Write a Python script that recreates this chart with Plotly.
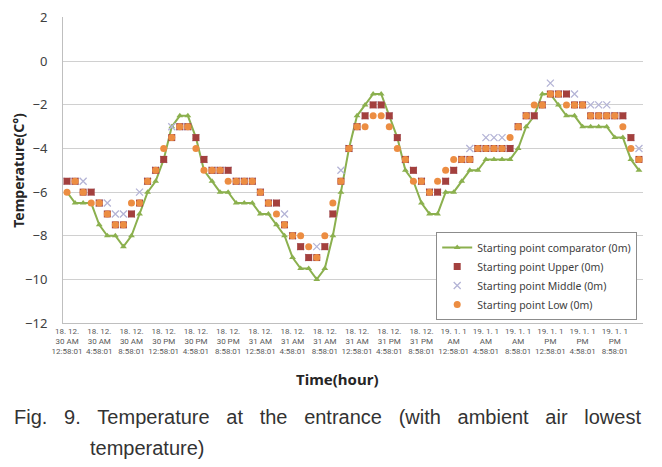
import plotly.graph_objects as go

tick_labels = [
    "18. 12.<br>30 AM<br>12:58:01", "18. 12.<br>30 AM<br>4:58:01", "18. 12.<br>30 AM<br>8:58:01",
    "18. 12.<br>30 PM<br>12:58:01", "18. 12.<br>30 PM<br>4:58:01", "18. 12.<br>30 PM<br>8:58:01",
    "18. 12.<br>31 AM<br>12:58:01", "18. 12.<br>31 AM<br>4:58:01", "18. 12.<br>31 AM<br>8:58:01",
    "18. 12.<br>31 AM<br>12:58:01", "18. 12.<br>31 PM<br>4:58:01", "18. 12.<br>31 PM<br>8:58:01",
    "19. 1. 1<br>AM<br>12:58:01", "19. 1. 1<br>AM<br>4:58:01", "19. 1. 1<br>AM<br>8:58:01",
    "19. 1. 1<br>PM<br>12:58:01", "19. 1. 1<br>PM<br>4:58:01", "19. 1. 1<br>PM<br>8:58:01",
]

comparator = [-6, -6.5, -6.5, -6.5, -7.5, -8, -8, -8.5, -8, -7, -6, -5.5,
              -4.5, -3, -2.5, -2.5, -3.5, -5, -5.5, -6, -6, -6.5, -6.5, -6.5,
              -7, -7, -7.5, -8, -9, -9.5, -9.5, -10, -9.5, -8, -6, -4,
              -2.5, -2, -1.5, -1.5, -2.5, -3.5, -5, -5.5, -6.5, -7, -7, -6,
              -6, -5.5, -5, -5, -4.5, -4.5, -4.5, -4.5, -4, -3, -2.5, -1.5,
              -1.5, -2, -2.5, -2.5, -3, -3, -3, -3, -3.5, -3.5, -4.5, -5]

upper = [-5.5, -5.5, -6, -6, -6.5, -7, -7.5, -7.5, -7, -6.5, -5.5, -5,
         -4.5, -3.5, -3, -3, -3.5, -4.5, -5, -5, -5, -5.5, -5.5, -5.5,
         -6, -6.5, -6.5, -7.5, -8, -8.5, -9, -9, -8.5, -7, -5.5, -4,
         -3, -2.5, -2, -2, -2.5, -3.5, -4.5, -5, -5.5, -6, -6, -5.5,
         -5, -4.5, -4.5, -4, -4, -4, -4, -4, -3, -2.5, -2.5, -2,
         -1.5, -1.5, -1.5, -2, -2, -2.5, -2.5, -2.5, -2.5, -2.5, -3.5, -4.5]

middle = [-5.5, -5.5, -5.5, -6, -6.5, -6.5, -7, -7, -7, -6, -5.5, -5,
          -4.5, -3, -3, -3, -3.5, -4.5, -5, -5, -5, -5.5, -5.5, -5.5,
          -6, -6.5, -6.5, -7, -8, -8.5, -9, -8.5, -8.5, -7, -5, -4,
          -3, -2.5, -2, -2, -2.5, -3.5, -4.5, -5, -5.5, -6, -6, -5.5,
          -5, -4.5, -4, -4, -3.5, -3.5, -3.5, -4, -3, -2.5, -2.5, -2,
          -1, -1.5, -1.5, -1.5, -2, -2, -2, -2, -2.5, -2.5, -3.5, -4]

low = [-6, -5.5, -6, -6.5, -6.5, -7, -7.5, -7.5, -6.5, -6.5, -5.5, -5,
       -4, -3.5, -3, -3, -4, -5, -5, -5, -5.5, -5.5, -5.5, -5.5,
       -6, -6.5, -7, -7.5, -8, -8, -8.5, -9, -8, -6.5, -5.5, -4,
       -3, -3, -2.5, -2.5, -3, -4, -4.5, -5.5, -5.5, -6, -5.5, -5,
       -4.5, -4.5, -4.5, -4, -4, -4, -4, -3.5, -3, -2.5, -2, -2,
       -1.5, -1.5, -2, -2, -2, -2.5, -2.5, -2.5, -2.5, -3, -4, -4.5]

x = list(range(len(comparator)))
tickvals = list(range(0, len(comparator), 4))[:len(tick_labels)]

GREEN = "#8BB04E"
RED = "#A3403E"
LAV = "#B4B4D6"
ORANGE = "#EC8D42"

fig = go.Figure()
fig.add_trace(go.Scatter(
    x=x, y=comparator, mode="lines+markers", name="Starting point comparator (0m)",
    line=dict(color=GREEN, width=2),
    marker=dict(symbol="triangle-up", size=6, color=GREEN),
    legendrank=1))
fig.add_trace(go.Scatter(
    x=x, y=middle, mode="markers", name="Starting point Middle (0m)",
    marker=dict(symbol="x-thin", size=7, line=dict(color=LAV, width=1.3), color=LAV),
    legendrank=3))
fig.add_trace(go.Scatter(
    x=x, y=upper, mode="markers", name="Starting point Upper (0m)",
    marker=dict(symbol="square", size=7, color=RED),
    legendrank=2))
fig.add_trace(go.Scatter(
    x=x, y=low, mode="markers", name="Starting point Low (0m)",
    marker=dict(symbol="circle", size=7, color=ORANGE),
    legendrank=4))

FONT = "Noto Sans"
CAP = "Liberation Sans"
SP = "&nbsp;&nbsp;&nbsp;"
caption1 = SP.join(["Fig.", "9.", "Temperature", "at", "the", "entrance",
                    "(with", "ambient", "air", "lowest"])

fig.update_layout(
    width=662, height=467,
    margin=dict(l=55, r=27, t=9, b=152, autoexpand=False),
    paper_bgcolor="white", plot_bgcolor="white",
    font=dict(family=FONT, color="#404040"),
    showlegend=True,
    legend=dict(x=0.99, y=0.01, xanchor="right", yanchor="bottom",
                bgcolor="white", bordercolor="#8c8c8c", borderwidth=1,
                font=dict(size=10.5, color="#404040"), tracegroupgap=0,
                itemwidth=30),
    xaxis=dict(range=[-0.5, len(comparator) - 0.5], tickmode="array",
               tickvals=tickvals, ticktext=tick_labels, automargin=False,
               tickfont=dict(size=8, color="#595959", family="Roboto"), tickangle=0,
               showgrid=False, showline=True, linecolor="#bfbfbf", linewidth=1,
               ticks="", zeroline=False),
    yaxis=dict(range=[-12, 2.03], dtick=2, tick0=0, automargin=False,
               tickfont=dict(size=13, color="#404040"), ticklabeloverflow="allow",
               showgrid=True, gridcolor="#d0d0d0", gridwidth=1,
               showline=True, linecolor="#bfbfbf", linewidth=1,
               zeroline=False, ticks="", ticklabelstandoff=12),
)

fig.add_annotation(text="<b>Temperature(C°)</b>", xref="paper", yref="paper",
                   x=-0.078, y=0.5, textangle=-90, showarrow=False,
                   xanchor="center", yanchor="middle",
                   font=dict(size=14, color="#262626", family=FONT))
fig.add_annotation(text="<b>Time(hour)</b>", xref="paper", yref="paper",
                   x=0.472, y=-0.183, showarrow=False,
                   xanchor="center", yanchor="middle",
                   font=dict(size=15, color="#262626", family=FONT))
fig.add_annotation(text=caption1,
                   xref="paper", yref="paper", x=-0.088, y=-0.307, showarrow=False,
                   xanchor="left", yanchor="middle",
                   font=dict(size=20, color="#333333", family=CAP))
fig.add_annotation(text="temperature)",
                   xref="paper", yref="paper", x=0.043, y=-0.41, showarrow=False,
                   xanchor="left", yanchor="middle",
                   font=dict(size=20, color="#333333", family=CAP))

fig.write_html("out.html")
